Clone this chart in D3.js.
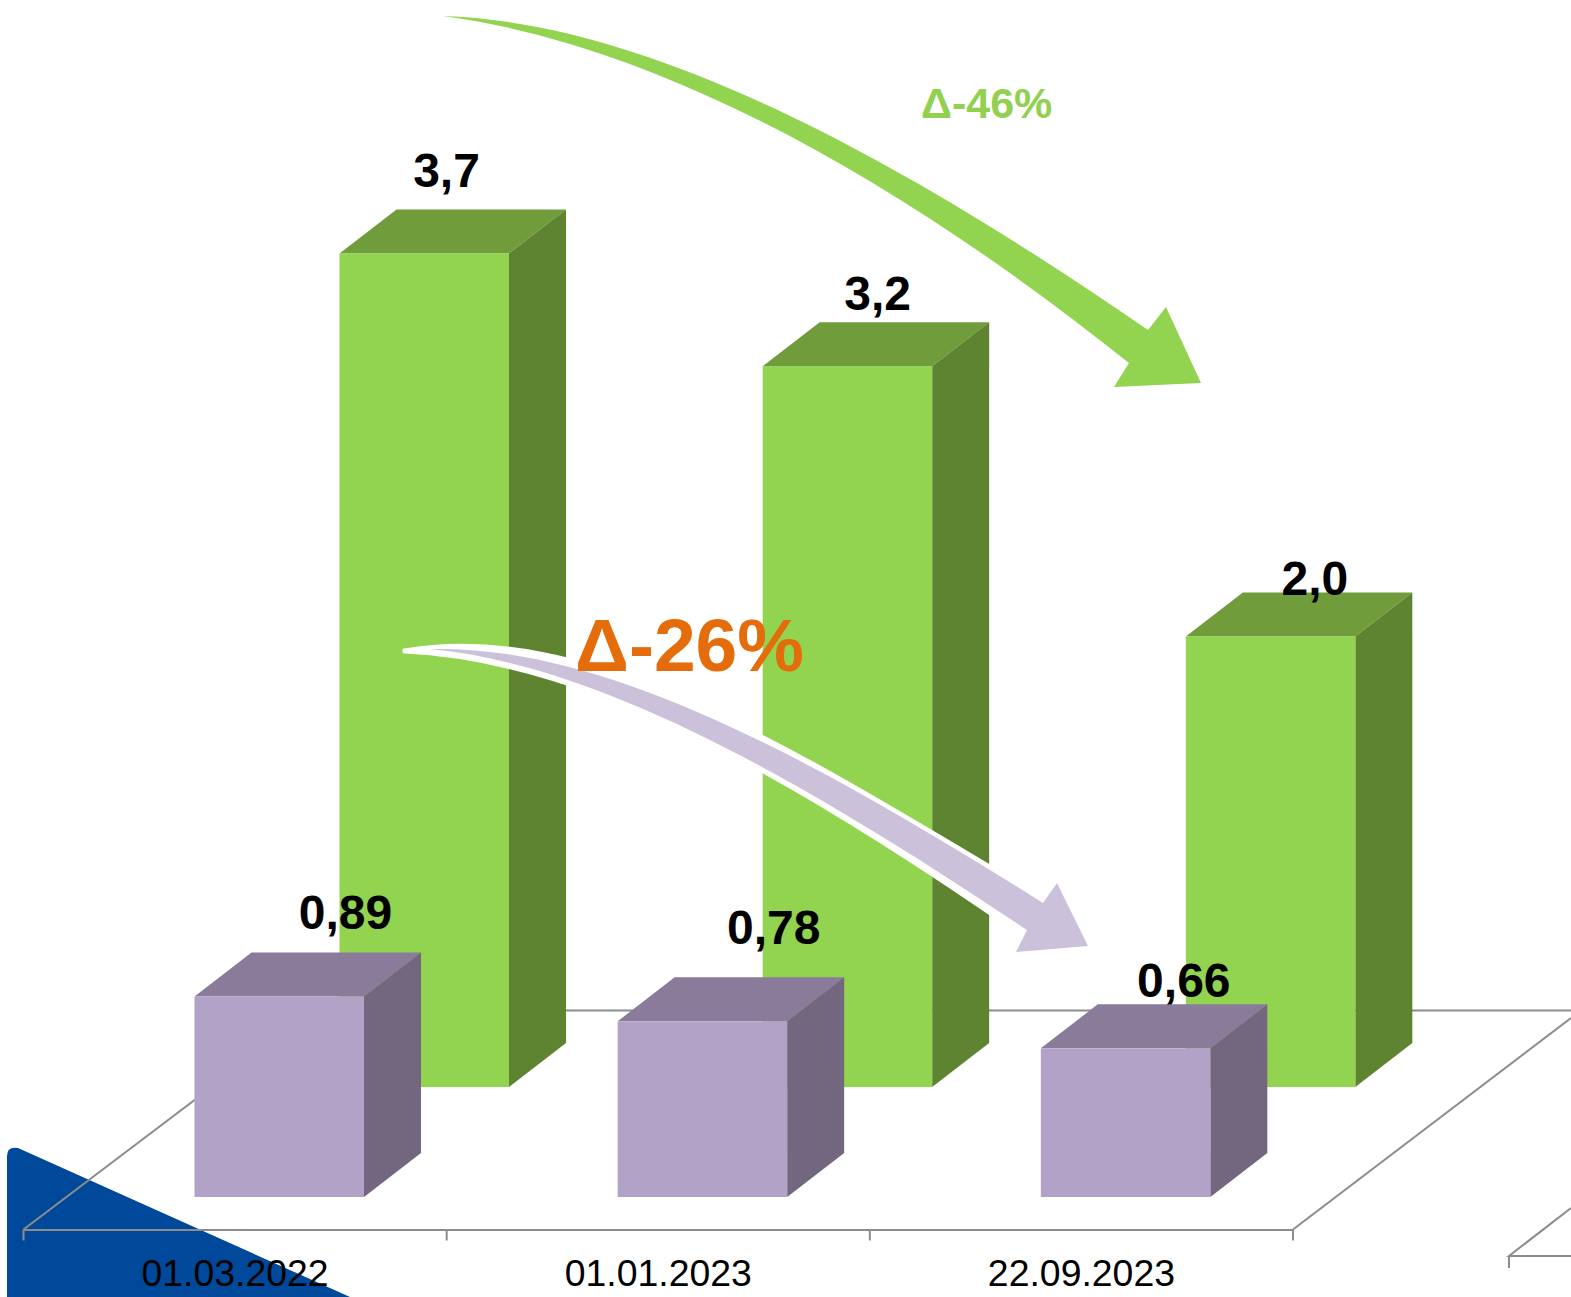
<!DOCTYPE html>
<html>
<head>
<meta charset="utf-8">
<script src="https://d3js.org/d3.v7.min.js"></script>
<style>
  html, body { margin: 0; padding: 0; background: #fff; }
  svg { display: block; font-family: "Liberation Sans", Arial, sans-serif; }
</style>
</head>
<body>
<svg id="chart"></svg>
<script>
const categories = ['01.03.2022', '01.01.2023', '22.09.2023'];
const greenValues = [3.7, 3.2, 2.0];
const purpleValues = [0.89, 0.78, 0.66];
const greenLabels = ['3,7', '3,2', '2,0'];
const purpleLabels = ['0,89', '0,78', '0,66'];

const width = 1571, height = 1297;
const depth = {x: 57, y: 44};
const barWidth = 169.5;

const svg = d3.select('#chart').attr('width', width).attr('height', height);

const x = d3.scaleBand().domain(categories).range([23.5, 1293]);
const y = d3.scaleLinear().domain([0, 3.7]).range([0, 833.5]);

// blue corner shape sits under everything
svg.append('path')
    .attr('d', 'M7,1297 L7,1156 Q7,1146 18,1148 L350,1297 Z')
    .attr('fill', '#004899');

// floor lines
const floor = svg.append('g').attr('fill', 'none').attr('stroke', '#8c8c8c').attr('stroke-width', 2);
floor.append('path').attr('d', 'M23.5,1229.5 L313,1010.5 L1571,1010.5');
floor.append('path').attr('d', 'M1293,1229.5 L1571,1018');
floor.append('path').attr('d', 'M1571,1208 L1509,1256 L1571,1256 M1509,1256 L1509,1268');

function drawBars(cls, values, labels, xOffset, baseY, colors, labelDx, labelDy) {
  const g = svg.append('g').attr('class', cls);
  const bars = g.selectAll('g').data(values).join('g')
      .attr('transform', (d, i) => `translate(${x(categories[i]) + xOffset},${baseY})`);

  bars.append('path')
      .attr('fill', colors.top)
      .attr('d', d => `M0,${-y(d)} l${depth.x},${-depth.y} h${barWidth} l${-depth.x},${depth.y} Z`);
  bars.append('path')
      .attr('fill', colors.side)
      .attr('d', d => `M${barWidth},0 V${-y(d)} l${depth.x},${-depth.y} V${-depth.y} Z`);
  bars.append('rect')
      .attr('fill', colors.front)
      .attr('width', barWidth)
      .attr('y', d => -y(d))
      .attr('height', d => y(d));
  // labels were placed by hand in the original, so each has its own nudge
  bars.append('text')
      .attr('x', (d, i) => 107 + labelDx[i])
      .attr('y', (d, i) => -y(d) - depth.y + labelDy[i])
      .attr('text-anchor', 'middle')
      .attr('font-size', 48)
      .attr('font-weight', 'bold')
      .text((d, i) => labels[i]);
  return g;
}

drawBars('green', greenValues, greenLabels, 316, 1087,
    {front: '#92d350', top: '#719c3b', side: '#5f8431'}, [0, 8, 22], [-23, -12, 3]);

drawBars('purple', purpleValues, purpleLabels, 171, 1197,
    {front: '#b3a2c7', top: '#897b99', side: '#72677e'}, [44, 49, 36], [-24, -33, -7]);

// category axis, ticks fall on the band edges
const xAxis = d3.axisBottom(x).tickSize(0).tickPadding(0);
const axisG = svg.append('g').attr('transform', 'translate(0,1229.5)').call(xAxis);
axisG.select('.domain').attr('stroke', '#8c8c8c').attr('stroke-width', 2);
axisG.selectAll('text')
    .attr('y', 56.5).attr('dy', 0)
    .attr('fill', '#000')
    .attr('font-size', 37.4)
    .attr('font-family', '"Liberation Sans", Arial, sans-serif');
axisG.selectAll('.edge')
    .data(d3.range(categories.length + 1))
    .join('line')
    .attr('class', 'edge')
    .attr('x1', i => 23.5 + i * x.step())
    .attr('x2', i => 23.5 + i * x.step())
    .attr('y2', 11)
    .attr('stroke', '#8c8c8c')
    .attr('stroke-width', 2);

// curved arrows
svg.append('path')
    .attr('fill', '#92d350')
    .attr('d', 'M443,16 C640,22 880,145 1148,330 L1166,307 L1201,383 L1114,387 L1129,363 C900,180 660,45 443,16 Z');

// white halo under the purple arrow
svg.append('path')
    .attr('fill', '#fff')
    .attr('stroke', '#fff')
    .attr('stroke-width', 3)
    .attr('stroke-linejoin', 'round')
    .attr('d', 'M404,650 C590,618 795,750 1040,896 L1025,938 C795,778 590,660 404,652 Z');

svg.append('path')
    .attr('fill', '#cbc1db')
    .attr('d', 'M430,649 C600,645 800,750 1043,903 L1057,883 L1088,946 L1016,952 L1027,930 C800,778 600,665 430,649 Z');

svg.append('text')
    .attr('x', 921).attr('y', 118)
    .attr('fill', '#92d050')
    .attr('font-size', 43)
    .attr('font-weight', 'bold')
    .text('Δ-46%');

svg.append('text')
    .attr('x', 575).attr('y', 671)
    .attr('fill', '#e46c0a')
    .attr('font-size', 75)
    .attr('font-weight', 'bold')
    .text('Δ-26%');
</script>
</body>
</html>
